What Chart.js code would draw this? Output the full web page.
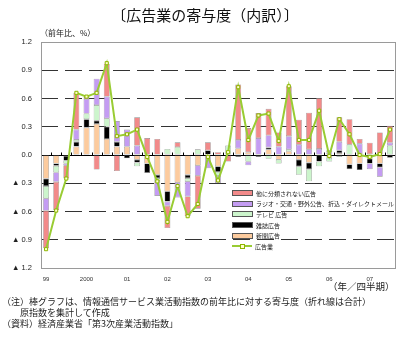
<!DOCTYPE html>
<html lang="ja">
<head>
<meta charset="utf-8">
<script src="https://cdn.jsdelivr.net/npm/chart.js@4.4.1/dist/chart.umd.min.js"></script>
<style>
  html, body { margin: 0; padding: 0; background: #fff; }
  #wrap { position: relative; width: 400px; height: 345px; overflow: hidden; font-family: "Noto Sans CJK JP", sans-serif; color: #222; }
  #c { position: absolute; left: 0; top: 0; }
  .txt { position: absolute; white-space: nowrap; line-height: 1; }
  #title { left: 0; width: 410px; text-align: center; top: 7px; font-size: 15px; color: #111; }
  #unit { left: 40px; top: 29px; font-size: 8px; }
  #xunit { left: 328px; top: 282px; font-size: 9.5px; }
  #n1 { left: 2px; top: 297px; font-size: 9px; }
  #n2 { left: 20px; top: 308px; font-size: 9px; }
  #n3 { left: 2px; top: 319px; font-size: 9px; }
  #legend { position: absolute; left: 232px; top: 188px; font-size: 6px; }
  .li { height: 10.6px; display: flex; align-items: center; }
  .bx { width: 19px; height: 4px; border: 0.6px solid #555; margin-right: 3px; flex: none; }
  .ln { width: 20px; height: 6px; margin-right: 3px; position: relative; flex: none; }
  .ln:before { content: ""; position: absolute; left: 0; right: 0; top: 2px; height: 2px; background: #99CC33; }
  .ln:after { content: ""; position: absolute; left: 8px; top: 1px; width: 3px; height: 3px; border: 1px solid #8DB600; background: #FFFFCC; }
</style>
</head>
<body>
<div id="wrap">
  <canvas id="c" width="400" height="345"></canvas>
  <div class="txt" id="title">〔広告業の寄与度（内訳）〕</div>
  <div class="txt" id="unit">（前年比、%）</div>
  <div class="txt" id="xunit">（年／四半期）</div>
  <div class="txt" id="n1">（注）棒グラフは、情報通信サービス業活動指数の前年比に対する寄与度（折れ線は合計）</div>
  <div class="txt" id="n2">原指数を集計して作成</div>
  <div class="txt" id="n3">（資料）経済産業省「第3次産業活動指数」</div>
  <div id="legend"></div>
</div>
<script>
// ---- data ----
const categories = [
  '1999Q1','1999Q2','1999Q3','1999Q4',
  '2000Q1','2000Q2','2000Q3','2000Q4',
  '2001Q1','2001Q2','2001Q3','2001Q4',
  '2002Q1','2002Q2','2002Q3','2002Q4',
  '2003Q1','2003Q2','2003Q3','2003Q4',
  '2004Q1','2004Q2','2004Q3','2004Q4',
  '2005Q1','2005Q2','2005Q3','2005Q4',
  '2006Q1','2006Q2','2006Q3','2006Q4',
  '2007Q1','2007Q2','2007Q3'
];
const tickLabels = [
  '99','','','',
  '2000','','','',
  '01','','','',
  '02','','','',
  '03','','','',
  '04','','','',
  '05','','','',
  '06','','','',
  '07','',''
];
const yTicks = [-1.2, -0.9, -0.6, -0.3, 0, 0.3, 0.6, 0.9, 1.2];

// 新聞広告
const shinbun = [-0.25,-0.09,-0.01,0.09, 0.29,0.33,0.17,0.09, 0.09,-0.05,-0.09,-0.21,
  -0.385,-0.29,-0.21,-0.11, 0,-0.12,0,0.07, 0.03,0,0.06,-0.05,
  0.04,-0.05,-0.08,0, -0.03,0.02,-0.10,-0.09, -0.04,-0.09,0];
// 雑誌広告
const zasshi = [-0.08,-0.025,-0.05,0.05, 0.09,0.035,0.13,0.05, -0.035,-0.03,-0.10,-0.035,
  -0.11,0,-0.035,0, 0.05,-0.06,0,-0.02, 0,-0.02,0.02,0,
  0,-0.07,-0.07,-0.07, 0,0.03,-0.05,-0.07, -0.05,-0.04,-0.03];
// テレビ広告
const tv = [-0.13,-0.07,-0.03,0.02, 0.06,0.165,0.09,0, 0,-0.04,0,-0.03,
  0.065,0.085,-0.035,0.06, 0,-0.04,0.10,0, -0.07,0,-0.04,-0.04,
  0.02,-0.09,-0.13,-0.05, -0.04,-0.02,0.11,0, 0.01,0,0.10];
// ラジオ・交通・野外公告、折込・ダイレクトメール
const radio = [-0.13,-0.10,-0.02,0.11, 0.155,0.28,0.23,0.22, 0.18,0.10,0,-0.16,
  -0.045,-0.16,-0.16,-0.11, -0.14,-0.08,0,0.09, -0.04,0.18,0.13,0.09,
  0.14,0.11,0.06,0.065, 0.03,0.09,0,0.12, -0.06,-0.10,0.03];
// 他に分類されない広告
const other = [-0.40,-0.30,-0.14,0.39, 0.02,-0.155,0.35,-0.17, 0,0.30,0.18,0.17,
  -0.235,0.05,-0.21,-0.35, 0.085,0.03,-0.07,0.59, 0.256,0.265,0.28,0.15,
  0.53,0.265,0.39,0.54, 0.02,0.26,0.27,0.05, 0.12,0.24,0.18];
// 広告業（合計）
const total = [-1.00,-0.59,-0.25,0.66, 0.62,0.66,0.975,0.20, 0.22,0.27,-0.02,-0.28,
  -0.71,-0.33,-0.65,-0.52, -0.02,-0.27,0.03,0.72, 0.16,0.42,0.44,0.15,
  0.73,0.16,0.16,0.47, -0.01,0.38,0.22,0.00, -0.02,0.01,0.27];

const COL = {
  other: '#F28A8A', radio: '#C49CF2', tv: '#CCF5CC', zasshi: '#000000', shinbun: '#FCCB9E', line: '#99CC33'
};

function barSet(label, data, color) {
  return {
    type: 'bar', label, data, backgroundColor: color,
    borderColor: '#8a8a8a', borderWidth: 0.6, borderSkipped: false,
    barPercentage: 0.58, categoryPercentage: 1, stack: 'bars', order: 1
  };
}

const datasets = [
  barSet('新聞広告', shinbun, COL.shinbun),
  barSet('雑誌広告', zasshi, COL.zasshi),
  barSet('テレビ 広告', tv, COL.tv),
  barSet('ラジオ・交通・野外公告、折込・ダイレクトメール', radio, COL.radio),
  barSet('他に分類されない広告', other, COL.other),
  {
    type: 'line', label: '広告業', data: total, stack: 'line', order: 0,
    borderColor: COL.line, borderWidth: 2, tension: 0,
    pointStyle: 'rect', pointRadius: 2.2, pointBorderWidth: 1,
    pointBackgroundColor: '#FFFFCC', pointBorderColor: '#8DB600'
  }
];

const framePlugin = {
  id: 'frame',
  beforeDatasetsDraw(chart) {
    const {ctx, chartArea: a, scales: {x, y}} = chart;
    const y0 = Math.round(y.getPixelForValue(0)) + 0.5;
    ctx.save();
    ctx.strokeStyle = '#000';
    ctx.lineWidth = 1;
    ctx.setLineDash([]);
    ctx.beginPath();
    ctx.moveTo(a.left, y0); ctx.lineTo(a.right, y0);
    for (let i = 1; i < categories.length; i++) {
      const px = Math.round((x.getPixelForValue(i - 1) + x.getPixelForValue(i)) / 2) + 0.5;
      ctx.moveTo(px, y0); ctx.lineTo(px, y0 - 3);
    }
    ctx.stroke();
    ctx.restore();
  },
  afterDraw(chart) {
    const {ctx, chartArea: a} = chart;
    ctx.save();
    ctx.strokeStyle = '#9a9a9a';
    ctx.lineWidth = 1;
    ctx.strokeRect(Math.round(a.left) + 0.5, Math.round(a.top) + 0.5,
      Math.round(a.right - a.left), Math.round(a.bottom - a.top));
    ctx.restore();
  }
};

const chart = new Chart(document.getElementById('c'), {
  data: { labels: categories, datasets },
  options: {
    responsive: false, animation: false, devicePixelRatio: 1,
    layout: { padding: { left: 0, top: 42, right: 4, bottom: 57 } },
    plugins: { legend: { display: false }, tooltip: { enabled: false }, title: { display: false } },
    scales: {
      x: {
        stacked: true, offset: true,
        grid: { display: false, drawTicks: false },
        border: { display: false },
        ticks: {
          autoSkip: false, maxRotation: 0, minRotation: 0, padding: 8,
          color: '#333', font: { family: 'Liberation Sans', size: 6 },
          callback: (v, i) => tickLabels[i]
        },
        afterFit: (s) => { s.height = 20; }
      },
      y: {
        stacked: true, min: -1.2, max: 1.2,
        afterBuildTicks: (s) => { s.ticks = yTicks.map(v => ({ value: v })); },
        grid: {
          drawTicks: false, lineWidth: 1,
          color: (c) => (c.tick && Math.abs(Math.abs(c.tick.value) - 1.2) < 1e-6) ? 'rgba(0,0,0,0)' : '#333'
        },
        border: { display: false, dash: [17, 7] },
        ticks: {
          padding: 9, color: '#222',
          font: { family: "'Liberation Sans', 'DejaVu Sans', sans-serif", size: 7.5 },
          callback: (v) => v < 0 ? '▲ ' + Math.abs(v).toFixed(1) : Number(v).toFixed(1)
        },
        afterFit: (s) => { s.width = 41; }
      }
    }
  },
  plugins: [framePlugin]
});

const legendOrder = [4, 3, 2, 1, 0, 5];
const lg = document.getElementById('legend');
legendOrder.forEach(i => {
  const ds = chart.data.datasets[i];
  const row = document.createElement('div');
  row.className = 'li';
  const sw = document.createElement('span');
  if (ds.type === 'line') {
    sw.className = 'ln';
  } else {
    sw.className = 'bx';
    sw.style.background = ds.backgroundColor;
  }
  const t = document.createElement('span');
  t.textContent = ds.label;
  row.appendChild(sw); row.appendChild(t);
  lg.appendChild(row);
});
</script>
</body>
</html>
